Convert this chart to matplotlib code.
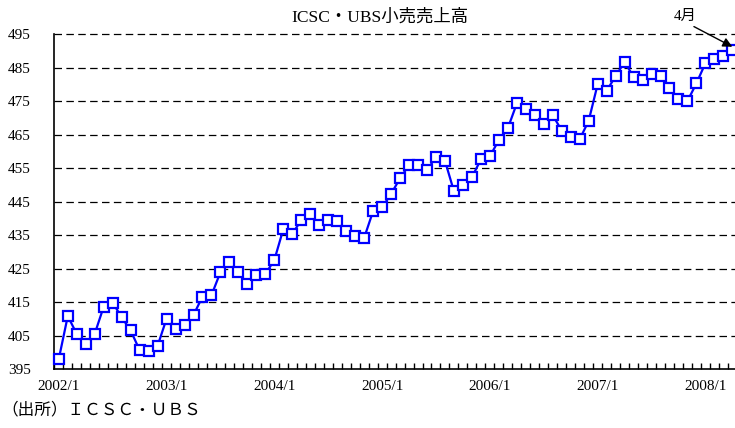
import matplotlib
matplotlib.use("Agg")
import matplotlib.pyplot as plt
import numpy as np

# ICSC-UBS retail sales, monthly 2002/1 - 2008/4
sales = [398.1, 410.9, 405.5, 402.5, 405.6, 413.7, 414.9, 410.5, 406.6, 400.7, 400.4, 402.0,
         410.1, 406.9, 408.2, 411.2, 416.7, 417.1, 424.0, 427.0, 423.9, 420.5, 423.1, 423.4,
         427.6, 436.8, 435.4, 439.5, 441.3, 437.9, 439.5, 439.3, 436.3, 434.8, 434.2, 442.2,
         443.3, 447.3, 452.0, 455.9, 456.0, 454.3, 458.4, 457.2, 448.1, 450.1, 452.3, 457.6,
         458.5, 463.4, 466.9, 474.3, 472.5, 470.8, 468.2, 470.8, 466.2, 464.2, 463.6, 469.1,
         480.0, 478.0, 482.5, 486.6, 482.3, 481.3, 483.0, 482.5, 479.0, 475.6, 475.0, 480.3,
         486.3, 487.6, 488.4, 490.2]
year_labels = ["2002/1", "2003/1", "2004/1", "2005/1", "2006/1", "2007/1", "2008/1"]
y_ticks = [395, 405, 415, 425, 435, 445, 455, 465, 475, 485, 495]

title = "ICSC・UBS小売売上高"
source = "（出所）ＩＣＳＣ・ＵＢＳ"
note = "4月"

fonts = ["Liberation Serif", "Noto Sans CJK JP"]
plt.rcParams["font.family"] = fonts

x = np.arange(len(sales))

fig = plt.figure(figsize=(7.35, 4.28), dpi=100)
ax = fig.add_axes([0.0739, 0.1371, 0.9286, 0.7834])

ax.plot(x, sales, color="#0000ff", lw=1.6, marker="s", markersize=7.5,
        markerfacecolor="white", markeredgecolor="#0000ff", markeredgewidth=1.6,
        clip_on=False, zorder=3)

ax.set_xlim(-0.5, len(sales) - 0.5)
ax.set_ylim(y_ticks[0], y_ticks[-1])

ax.set_yticks(y_ticks)
ax.set_yticklabels([str(v) for v in y_ticks], fontsize=11)
ax.tick_params(axis="y", length=0, pad=17)
for v in y_ticks[1:]:
    ax.axhline(v, color="black", lw=0.9, linestyle=(0, (6, 3.5)), zorder=1, clip_on=False)

ax.set_xticks(x[::12])
ax.set_xticklabels(year_labels, fontsize=11)
ax.set_xticks(np.arange(-0.5, len(sales)), minor=True)
ax.tick_params(axis="x", which="major", length=0, pad=8)
ax.tick_params(axis="x", which="minor", direction="in", length=4, width=1)

for s in ["top", "right"]:
    ax.spines[s].set_visible(False)
ax.spines["left"].set_linewidth(1.2)
ax.spines["bottom"].set_linewidth(1.2)

ax.annotate(note, xy=(x[-1], sales[-1] + 1.0), xytext=(-34, 17), textcoords="offset points",
            fontsize=11, ha="center", va="bottom", annotation_clip=False,
            arrowprops=dict(arrowstyle="-|>", color="black", lw=1, mutation_scale=14,
                            shrinkA=1, shrinkB=0, relpos=(0.6, 0)))

fig.text(0.517, 0.960, title, fontsize=12.5, ha="center", va="center")
fig.text(0.002, 0.042, source, fontsize=12, ha="left", va="center")

fig.savefig("out.png", dpi=100)
